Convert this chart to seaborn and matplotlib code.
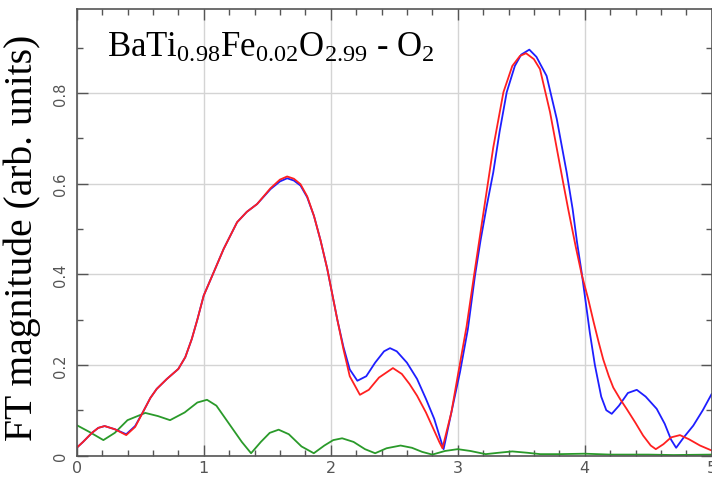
import numpy as np
import pandas as pd
import matplotlib
matplotlib.use("Agg")
import matplotlib.pyplot as plt
import seaborn as sns
from matplotlib.ticker import MultipleLocator

# ---- data ----
blue_x = [0.00, 0.05, 0.12, 0.17, 0.22, 0.30, 0.39, 0.46, 0.52, 0.58, 0.63, 0.71, 0.80, 0.855, 0.906, 0.95,
          1.00, 1.078, 1.157, 1.263, 1.34, 1.42, 1.526, 1.60, 1.657, 1.71, 1.762, 1.815, 1.868, 1.92,
          1.973, 2.052, 2.10, 2.15, 2.21, 2.28, 2.35, 2.42, 2.467, 2.52, 2.60, 2.68, 2.75, 2.815, 2.86,
          2.889, 2.95, 3.018, 3.08, 3.136, 3.18, 3.228, 3.28, 3.33, 3.386, 3.45, 3.50, 3.564, 3.62,
          3.70, 3.78, 3.858, 3.905, 3.94, 3.976, 4.00, 4.04, 4.08, 4.13, 4.17, 4.213, 4.27, 4.34,
          4.41, 4.48, 4.567, 4.63, 4.68, 4.72, 4.78, 4.855, 4.93, 5.00]
blue_y = [0.017, 0.030, 0.050, 0.061, 0.065, 0.058, 0.047, 0.065, 0.095, 0.127, 0.147, 0.169, 0.191, 0.217, 0.257, 0.300,
          0.353, 0.404, 0.456, 0.515, 0.538, 0.555, 0.588, 0.605, 0.612, 0.607, 0.596, 0.570, 0.529, 0.475,
          0.412, 0.300, 0.240, 0.190, 0.165, 0.175, 0.205, 0.230, 0.237, 0.230, 0.205, 0.169, 0.125, 0.081, 0.040,
          0.014, 0.095, 0.184, 0.279, 0.397, 0.475, 0.550, 0.625, 0.715, 0.802, 0.860, 0.885, 0.896, 0.880,
          0.838, 0.743, 0.625, 0.544, 0.470, 0.404, 0.355, 0.272, 0.200, 0.130, 0.100, 0.092, 0.110, 0.138,
          0.145, 0.130, 0.103, 0.070, 0.035, 0.017, 0.040, 0.066, 0.100, 0.136]

red_x = [0.00, 0.05, 0.12, 0.17, 0.22, 0.30, 0.39, 0.46, 0.52, 0.58, 0.63, 0.71, 0.80, 0.855, 0.906, 0.95,
         1.00, 1.078, 1.157, 1.263, 1.34, 1.42, 1.526, 1.60, 1.657, 1.71, 1.762, 1.815, 1.868, 1.92,
         1.973, 2.052, 2.10, 2.15, 2.23, 2.30, 2.38, 2.49, 2.56, 2.62, 2.68, 2.75, 2.81, 2.855, 2.88,
         2.95, 3.00, 3.07, 3.13, 3.207, 3.28, 3.36, 3.43, 3.49, 3.538, 3.60, 3.648, 3.727, 3.83, 3.87, 3.93,
         3.976, 4.028, 4.07, 4.11, 4.146, 4.19, 4.225, 4.278, 4.33, 4.40, 4.46, 4.52, 4.56, 4.62, 4.68, 4.75,
         4.82, 4.908, 5.00]
red_y = [0.017, 0.030, 0.050, 0.061, 0.065, 0.058, 0.045, 0.063, 0.095, 0.127, 0.147, 0.169, 0.191, 0.217, 0.257, 0.300,
         0.353, 0.404, 0.456, 0.515, 0.538, 0.555, 0.590, 0.609, 0.616, 0.611, 0.599, 0.572, 0.529, 0.475,
         0.412, 0.300, 0.235, 0.175, 0.134, 0.145, 0.172, 0.193, 0.180, 0.158, 0.132, 0.095, 0.058, 0.030, 0.016,
         0.095, 0.175, 0.285, 0.400, 0.544, 0.680, 0.802, 0.860, 0.882, 0.888, 0.875, 0.853, 0.758, 0.603, 0.544, 0.460,
         0.400, 0.345, 0.295, 0.250, 0.212, 0.175, 0.150, 0.125, 0.103, 0.072, 0.044, 0.022, 0.014, 0.025, 0.040, 0.045,
         0.036, 0.022, 0.011]

green_x = [0.00, 0.10, 0.21, 0.30, 0.40, 0.54, 0.64, 0.735, 0.85, 0.95, 1.026, 1.10, 1.21, 1.30, 1.373,
           1.45, 1.52, 1.59, 1.67, 1.77, 1.867, 1.95, 2.02, 2.09, 2.18, 2.27, 2.35, 2.44, 2.55, 2.64,
           2.72, 2.80, 2.90, 3.00, 3.10, 3.22, 3.32, 3.43, 3.55, 3.65, 3.80, 4.00, 4.20, 4.50, 4.70, 5.00]
green_y = [0.067, 0.052, 0.034, 0.050, 0.078, 0.094, 0.087, 0.078, 0.095, 0.117, 0.123, 0.110, 0.066, 0.030, 0.005,
           0.030, 0.050, 0.057, 0.047, 0.020, 0.005, 0.022, 0.034, 0.038, 0.030, 0.014, 0.005, 0.016, 0.022, 0.017,
           0.008, 0.002, 0.010, 0.014, 0.010, 0.003, 0.006, 0.009, 0.006, 0.003, 0.003, 0.004, 0.002, 0.002, 0.001, 0.002]

x_ticks = [0, 1, 2, 3, 4, 5]
y_ticks = [0.0, 0.2, 0.4, 0.6, 0.8]
y_tick_labels = ["0", "0.2", "0.4", "0.6", "0.8"]

sns.set_theme(style="white")
plt.rcParams["mathtext.fontset"] = "custom"
plt.rcParams["mathtext.rm"] = "Liberation Serif"
plt.rcParams["mathtext.it"] = "Liberation Serif:italic"
plt.rcParams["mathtext.bf"] = "Liberation Serif:bold"

W, H = 712, 481
fig = plt.figure(figsize=(W / 100, H / 100), dpi=100)
ax_left, ax_right, ax_top, ax_bottom = 76.7, 711.7, 10, 456.5
ax = fig.add_axes([ax_left / W, 1 - ax_bottom / H, (ax_right - ax_left) / W, (ax_bottom - ax_top) / H])

df_g = pd.DataFrame({"x": green_x, "y": green_y})
df_b = pd.DataFrame({"x": blue_x, "y": blue_y})
df_r = pd.DataFrame({"x": red_x, "y": red_y})

sns.lineplot(data=df_g, x="x", y="y", ax=ax, color="#2a9a2a", lw=1.3, sort=False)
sns.lineplot(data=df_b, x="x", y="y", ax=ax, color="#1e1eff", lw=1.3, sort=False)
sns.lineplot(data=df_r, x="x", y="y", ax=ax, color="#ff2020", lw=1.3, sort=False)

ax.set_xlim(0, 5)
ax.set_ylim(0, 0.9857)
ax.set_xticks(x_ticks)
ax.set_xticklabels([str(t) for t in x_ticks])
ax.set_yticks(y_ticks)
ax.set_yticklabels(y_tick_labels, rotation=90, va="center", ha="center")
ax.xaxis.set_minor_locator(MultipleLocator(0.2))
ax.yaxis.set_minor_locator(MultipleLocator(0.1))
ax.grid(True, which="major", color="#d4d4d4", lw=1.0)
ax.set_axisbelow(True)

ax.tick_params(which="both", direction="in", top=True, right=True, bottom=True, left=True,
               color="#555555", width=1.0)
ax.tick_params(which="major", length=8)
ax.tick_params(which="minor", length=4)
ax.tick_params(axis="x", which="major", labelsize=11.5, labelcolor="#555555", pad=3)
ax.tick_params(axis="y", which="major", labelsize=10.5, labelcolor="#555555", pad=12)
for lab in ax.get_xticklabels() + ax.get_yticklabels():
    lab.set_fontfamily("DejaVu Sans")

for s in ax.spines.values():
    s.set_color("#555555")
    s.set_linewidth(1.2)

ax.set_xlabel("")
ax.set_ylabel("FT magnitude (arb. units)", fontfamily="Liberation Serif", fontsize=28.5, color="black")
ax.yaxis.set_label_coords(-0.057, 0.49)

ax.text(0.048, 0.895,
        r"$\mathrm{BaTi}_{\mathrm{0.98}}\mathrm{Fe}_{\mathrm{0.02}}\mathrm{O}_{\mathrm{2.99}}$ - O$_{\mathrm{2}}$",
        transform=ax.transAxes, fontfamily="Liberation Serif", fontsize=25, color="black",
        ha="left", va="baseline")

fig.savefig("out.png", dpi=100)
